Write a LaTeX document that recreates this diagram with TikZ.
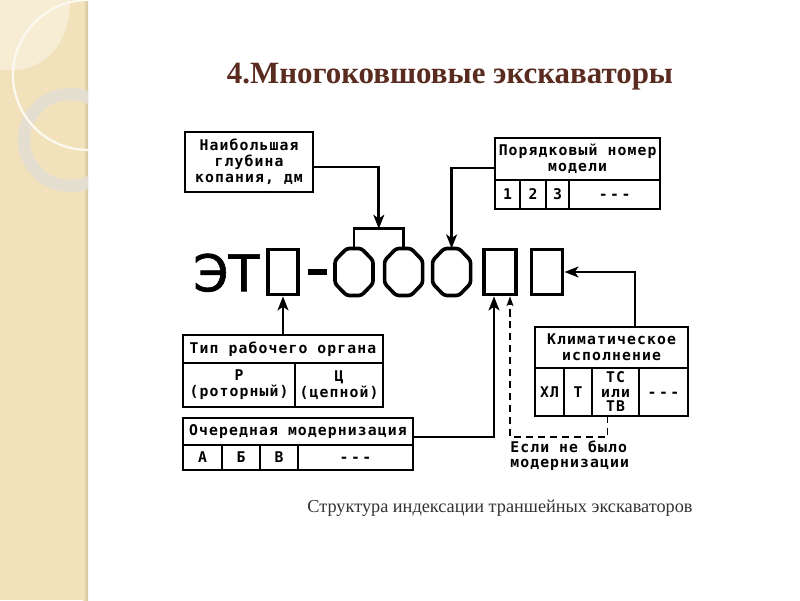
\documentclass[tikz,border=0pt]{standalone}
\usepackage{fontspec}
\setmainfont{Liberation Serif}
\newfontfamily\dgfont[LetterSpace=7.5]{DejaVu Sans Mono}
\newfontfamily\bigfont[FakeBold=1.2]{DejaVu Sans}
\usetikzlibrary{positioning,arrows.meta,calc}
\definecolor{strip}{HTML}{F2E2BC}
\definecolor{stripedge}{HTML}{D2C29C}
\definecolor{leaf}{HTML}{F7EDD5}
\definecolor{ring}{HTML}{E3DED3}
\definecolor{titlebrown}{HTML}{5A2B1F}
\definecolor{capgrey}{HTML}{333333}
\newcommand\etc{\vphantom{А}-\,-\,-}

\begin{document}
\begin{tikzpicture}[
  dg/.style={font=\dgfont\bfseries\fontsize{10.5}{11.5}\selectfont},
  headbox/.style={draw, line width=1.6pt, align=center, dg, inner xsep=0.5pt, inner ysep=2pt, outer sep=0pt},
  cell/.style={draw, line width=1.6pt, align=center, dg, inner sep=1pt, outer sep=0pt},
  slot/.style={draw, line width=2.6pt, minimum width=0.75cm, minimum height=1.125cm, inner sep=0pt},
  digit/.style={minimum width=0.95cm, minimum height=1.175cm, inner sep=0pt, outer sep=0pt},
  octo/.style={line width=2.6pt, rounded corners=2pt},
  arr/.style={-{Stealth[length=0.35cm, width=0.27cm, inset=0.09cm]}, line width=2.1pt},
  darr/.style={-{Stealth[length=0.24cm, width=0.17cm, inset=0.05cm]}, line width=1.2pt,
               dash pattern=on 5pt off 3.5pt}
]
\useasboundingbox (0,0) rectangle (20,15);
% ---------------- Slide strip ----------------
\fill[white] (0,0) rectangle (20,15);
\fill[strip] (0,0) rectangle (2.2,15);
\shade[left color=strip, right color=stripedge] (2.08,0) rectangle (2.2,15);
\begin{scope}
  \clip (0,0) rectangle (2.2,15);
  \fill[leaf] (0,15) -- (1.75,15) .. controls (1.75,14) and (1.25,13.375) .. (0.45,13.25)
    -- (0,13.25) -- cycle;
  \draw[ring, line width=0.3cm, opacity=0.9] (1.75,11.5) circle (1.15);
  \draw[white!80!strip, line width=1.6pt] (2.2,13.125) circle (1.875);
\end{scope}
% ---------------- Title ----------------
\node[font=\bfseries\fontsize{22}{24}\selectfont, text=titlebrown] (title) at (11.25,13.075)
  {4.Многоковшовые экскаваторы};
% ---------------- Index ----------------
\node[font=\bigfont\fontsize{36}{36}\selectfont, inner sep=0pt] (et) at (5.66,8.18) {ЭТ};
\node[slot, minimum width=0.75cm] (r1) at (7.075,8.2) {};
\foreach \n/\x in {1/8.85,2/10.09,3/11.29}{
  \node[digit] (o\n) at (\x,8.2) {};
  \draw[octo] ($(o\n.north west)+(0.29,0)$) -- ($(o\n.north east)+(-0.29,0)$)
    -- ($(o\n.north east)+(0,-0.3)$) -- ($(o\n.south east)+(0,0.3)$)
    -- ($(o\n.south east)+(-0.29,0)$) -- ($(o\n.south west)+(0.29,0)$)
    -- ($(o\n.south west)+(0,0.3)$) -- ($(o\n.north west)+(0,-0.3)$) -- cycle;
}
\node[slot, minimum width=0.8cm] (r2) at (12.5,8.2) {};
\node[slot, minimum width=0.78cm] (r3) at (13.675,8.2) {};
\draw[line width=3.6pt] ($(r1.east)+(0.2,0)$) -- ++(0.47,0);
% ---------------- Digging depth ----------------
\node[headbox, minimum width=3.2cm, minimum height=1.5cm] (depth) at (6.225,10.95)
  {Наибольшая\\глубина\\копания, дм};
\draw[line width=2pt] (o1.north) -- ++(0,0.49) -| (o2.north);
\coordinate (brk) at ($(o1.north)!0.5!(o2.north)+(0,0.49)$);
\draw[arr] ([yshift=-0.125cm]depth.east) -| (brk);
% ---------------- Model number ----------------
\node[headbox, minimum width=4.125cm, minimum height=1.05cm] (model) at (14.44,11.025)
  {Порядковый номер\\модели};
\node[cell, anchor=north west, minimum width=0.625cm, minimum height=0.725cm] (m1) at (model.south west) {1};
\node[cell, right=0pt of m1, minimum width=0.65cm, minimum height=0.725cm] (m2) {2};
\node[cell, right=0pt of m2, minimum width=0.575cm, minimum height=0.725cm] (m3) {3};
\node[cell, right=0pt of m3, minimum width=2.275cm, minimum height=0.725cm] (m4) {\etc};
\draw[arr] ([yshift=-0.225cm]model.west) -| (o3.north);
% ---------------- Working body ----------------
\node[headbox, minimum width=5cm, minimum height=0.7cm] (organ) at (7.075,6.275) {Тип рабочего органа};
\node[cell, anchor=north west, minimum width=2.8cm, minimum height=1.1cm] (t1) at (organ.south west) {Р\\(роторный)};
\node[cell, right=0pt of t1, minimum width=2.2cm, minimum height=1.1cm] (t2) {Ц\\(цепной)};
\draw[arr] (organ.north) -- (r1.south);
% ---------------- Modernisation ----------------
\node[headbox, minimum width=5.75cm, minimum height=0.675cm] (modern) at (7.45,4.2125) {Очередная модернизация};
\node[cell, anchor=north west, minimum width=0.975cm, minimum height=0.625cm] (a1) at (modern.south west) {А};
\node[cell, right=0pt of a1, minimum width=0.95cm, minimum height=0.625cm] (a2) {Б};
\node[cell, right=0pt of a2, minimum width=0.95cm, minimum height=0.625cm] (a3) {В};
\node[cell, right=0pt of a3, minimum width=2.875cm, minimum height=0.625cm] (a4) {\etc};
\draw[arr] ([yshift=-0.1375cm]modern.east) -| ([xshift=-0.15cm]r2.south);
% ---------------- Climate ----------------
\node[headbox, minimum width=3.825cm, minimum height=1.025cm] (clim) at (15.2875,6.3125)
  {Климатическое\\исполнение};
\node[cell, anchor=north west, minimum width=0.725cm, minimum height=1.2cm] (k1) at (clim.south west) {ХЛ};
\node[cell, right=0pt of k1, minimum width=0.7cm, minimum height=1.2cm] (k2) {Т};
\node[cell, right=0pt of k2, minimum width=1.175cm, minimum height=1.2cm,
      font=\dgfont\bfseries\fontsize{10.5}{10.3}\selectfont] (k3) {ТС\\или\\ТВ};
\node[cell, right=0pt of k3, minimum width=1.225cm, minimum height=1.2cm] (k4) {\etc};
\draw[arr] ([xshift=0.5875cm]clim.north) |- (r3.east);
\coordinate (ks) at ([xshift=-0.2cm]k3.south);
\coordinate (turn) at ($(ks)+(0,-0.525)$);
\coordinate (dup) at ([xshift=0.25cm]r2.south);
\coordinate (dcorner) at (dup |- turn);
\draw[darr] (ks) -- (turn) -- (dcorner) -- (dup);
\node[anchor=north west, align=left, inner sep=0pt, font=\dgfont\bfseries\fontsize{10.5}{10.5}\selectfont]
  (nomod) at ([yshift=-0.1cm]dcorner) {Если не было\\модернизации};
% ---------------- Caption ----------------
\node[font=\fontsize{13}{16}\selectfont, text=capgrey] (caption) at (12.5,2.3)
  {Структура индексации траншейных экскаваторов};
\end{tikzpicture}
\end{document}
